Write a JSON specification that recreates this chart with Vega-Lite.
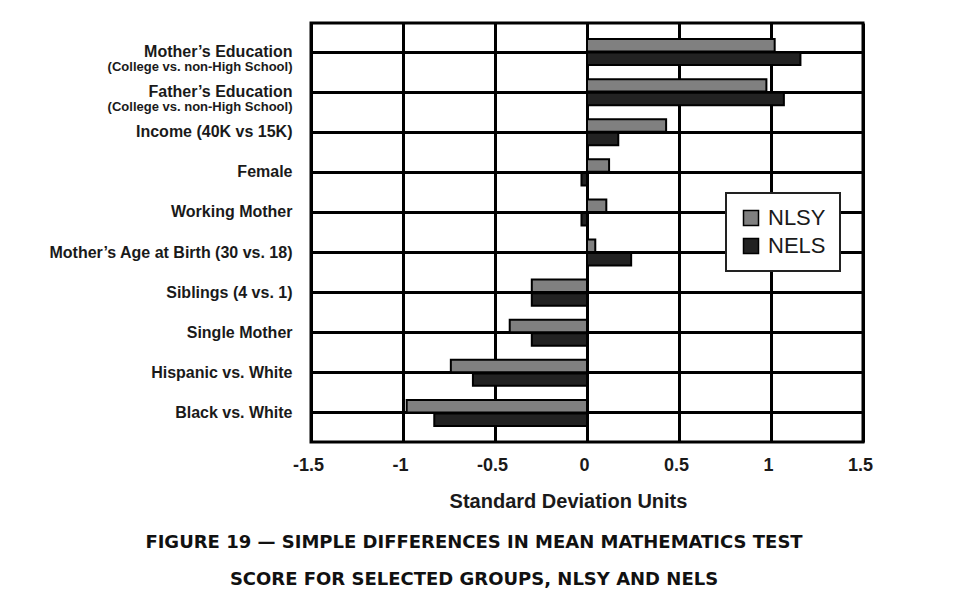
{
  "$schema": "https://vega.github.io/schema/vega-lite/v6.json",
  "width": 552,
  "height": 419,
  "autosize": {"type": "none"},
  "padding": {"left": 311, "top": 23, "right": 90, "bottom": 163},
  "background": "white",
  "config": {
    "view": {"stroke": "black", "strokeWidth": 3},
    "font": "Liberation Sans",
    "legend": {"strokeWidth": 2}
  },
  "title": {
    "text": ["FIGURE 19 — SIMPLE DIFFERENCES IN MEAN MATHEMATICS TEST", "SCORE FOR SELECTED GROUPS, NLSY AND NELS"],
    "orient": "bottom",
    "anchor": "middle",
    "dx": -113,
    "offset": 23,
    "font": "DejaVu Sans",
    "fontSize": 18,
    "fontWeight": "bold",
    "lineHeight": 37,
    "color": "#111111"
  },
  "data": {
    "values": [
      {"group": "Mother’s Education", "survey": "NLSY", "value": 1.02},
      {"group": "Mother’s Education", "survey": "NELS", "value": 1.16},
      {"group": "Father’s Education", "survey": "NLSY", "value": 0.975},
      {"group": "Father’s Education", "survey": "NELS", "value": 1.07},
      {"group": "Income (40K vs 15K)", "survey": "NLSY", "value": 0.43},
      {"group": "Income (40K vs 15K)", "survey": "NELS", "value": 0.17},
      {"group": "Female", "survey": "NLSY", "value": 0.12},
      {"group": "Female", "survey": "NELS", "value": -0.03},
      {"group": "Working Mother", "survey": "NLSY", "value": 0.105},
      {"group": "Working Mother", "survey": "NELS", "value": -0.03},
      {"group": "Mother’s Age at Birth (30 vs. 18)", "survey": "NLSY", "value": 0.045},
      {"group": "Mother’s Age at Birth (30 vs. 18)", "survey": "NELS", "value": 0.24},
      {"group": "Siblings (4 vs. 1)", "survey": "NLSY", "value": -0.3},
      {"group": "Siblings (4 vs. 1)", "survey": "NELS", "value": -0.3},
      {"group": "Single Mother", "survey": "NLSY", "value": -0.42},
      {"group": "Single Mother", "survey": "NELS", "value": -0.3},
      {"group": "Hispanic vs. White", "survey": "NLSY", "value": -0.74},
      {"group": "Hispanic vs. White", "survey": "NELS", "value": -0.62},
      {"group": "Black vs. White", "survey": "NLSY", "value": -0.98},
      {"group": "Black vs. White", "survey": "NELS", "value": -0.83}
    ]
  },
  "layer": [
    {
      "mark": {"type": "bar", "stroke": "black", "strokeWidth": 2},
      "encoding": {
        "y": {
          "field": "group",
          "type": "nominal",
          "sort": ["Mother’s Education", "Father’s Education", "Income (40K vs 15K)", "Female", "Working Mother", "Mother’s Age at Birth (30 vs. 18)", "Siblings (4 vs. 1)", "Single Mother", "Hispanic vs. White", "Black vs. White"],
          "scale": {"paddingInner": 0.35, "paddingOuter": 0.4},
          "axis": {
            "title": null,
            "orient": "left",
            "bandPosition": 0.5,
            "grid": true,
            "gridColor": "black",
            "gridWidth": 3,
            "gridOpacity": 1,
            "domain": false,
            "ticks": false,
            "tickSize": 0,
            "labelPadding": 19,
            "labelFont": "Liberation Sans",
            "labelFontSize": 16,
            "labelFontWeight": "bold",
            "labelColor": "#1a1a1a",
            "labelLimit": 400
          }
        },
        "yOffset": {
          "field": "survey",
          "type": "nominal",
          "sort": ["NLSY", "NELS"],
          "scale": {"paddingInner": 0.08}
        },
        "x": {
          "field": "value",
          "type": "quantitative",
          "scale": {"domain": [-1.5, 1.5], "nice": false},
          "axis": {
            "title": "Standard Deviation Units",
            "values": [-1.5, -1, -0.5, 0, 0.5, 1, 1.5],
            "labelExpr": "'' + datum.value",
            "labelFlush": false,
            "labelOffset": -3,
            "grid": true,
            "gridColor": "black",
            "gridWidth": 3,
            "gridOpacity": 1,
            "domain": false,
            "ticks": false,
            "tickSize": 0,
            "labelPadding": 28,
            "labelBaseline": "alphabetic",
            "labelFont": "Liberation Sans",
            "labelFontSize": 18,
            "labelFontWeight": "bold",
            "labelColor": "#1a1a1a",
            "titleFont": "Liberation Sans",
            "titleFontSize": 20,
            "titleFontWeight": "bold",
            "titleColor": "#1a1a1a",
            "titleX": 257,
            "titleY": 65,
            "titleAlign": "center",
            "titleBaseline": "alphabetic"
          }
        },
        "color": {
          "field": "survey",
          "type": "nominal",
          "sort": ["NLSY", "NELS"],
          "scale": {"domain": ["NLSY", "NELS"], "range": ["#808080", "#222222"]},
          "legend": {
            "title": null,
            "orient": "none",
            "legendX": 415,
            "legendY": 170,
            "symbolType": "square",
            "symbolSize": 225,
            "symbolStrokeColor": "black",
            "symbolStrokeWidth": 1.5,
            "symbolOpacity": 1,
            "labelFont": "Liberation Sans",
            "labelFontSize": 22,
            "labelFontWeight": "normal",
            "labelColor": "#1a1a1a",
            "labelOffset": 6,
            "rowPadding": 6,
            "padding": 14,
            "fillColor": "white",
            "strokeColor": "#222222"
          }
        }
      }
    },
    {
      "mark": {"type": "text", "text": ""},
      "encoding": {
        "y": {
          "field": "group",
          "type": "nominal",
          "sort": ["Mother’s Education", "Father’s Education", "Income (40K vs 15K)", "Female", "Working Mother", "Mother’s Age at Birth (30 vs. 18)", "Siblings (4 vs. 1)", "Single Mother", "Hispanic vs. White", "Black vs. White"],
          "axis": {
            "title": null,
            "orient": "left",
            "bandPosition": 0.5,
            "grid": false,
            "domain": false,
            "ticks": false,
            "tickSize": 0,
            "labelPadding": 19,
            "labelOffset": 15,
            "labelExpr": "indexof(datum.value, 'Education') >= 0 ? '(College vs. non-High School)' : ''",
            "labelFont": "Liberation Sans",
            "labelFontSize": 13,
            "labelFontWeight": "bold",
            "labelColor": "#1a1a1a",
            "labelLimit": 400
          }
        },
        "x": {"field": "value", "type": "quantitative"}
      }
    }
  ],
  "resolve": {"axis": {"y": "independent"}}
}
